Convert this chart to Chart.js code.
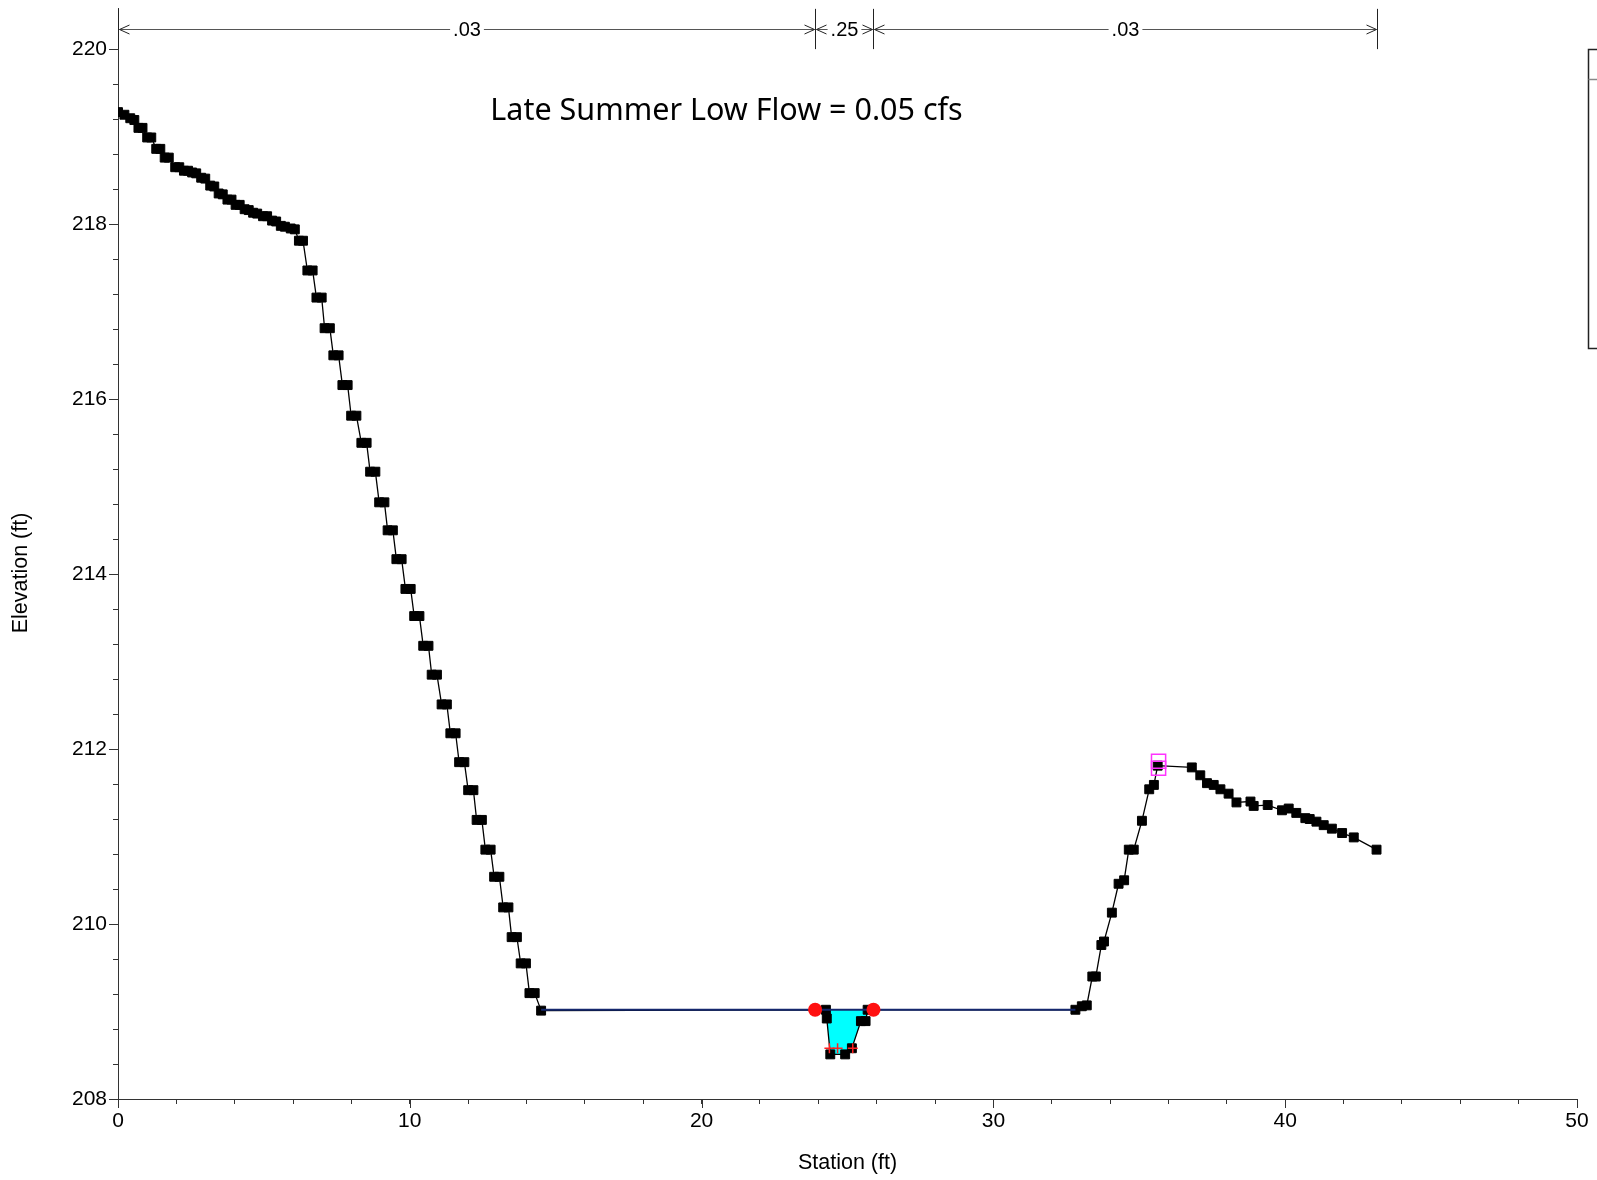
<!DOCTYPE html>
<html>
<head>
<meta charset="utf-8">
<script src="https://cdn.jsdelivr.net/npm/chart.js@4.4.1/dist/chart.umd.min.js"></script>
<style>
  html, body { margin: 0; padding: 0; background: #fff; }
  #wrap { width: 1597px; height: 1180px; }
</style>
</head>
<body>
<div id="wrap"><canvas id="xsChart" width="1597" height="1180"></canvas></div>
<script>
// ground survey points (station ft, elevation ft)
const groundStation = [
  0.00, 0.22, 0.42, 0.56, 0.70, 0.84, 1.00, 1.14, 1.31, 1.45, 1.60, 1.74, 1.96, 2.10, 2.26, 2.40,
  2.54, 2.68, 2.85, 2.99, 3.16, 3.30, 3.45, 3.59, 3.75, 3.89, 4.03, 4.17, 4.34, 4.48, 4.63, 4.77,
  4.97, 5.11, 5.28, 5.42, 5.58, 5.72, 5.92, 6.06, 6.20, 6.34,
  6.49, 6.67, 6.80, 6.98, 7.08, 7.26, 7.38, 7.56, 7.69, 7.87, 7.99, 8.17, 8.34, 8.52, 8.64, 8.82,
  8.95, 9.13, 9.24, 9.42, 9.54, 9.72, 9.85, 10.03, 10.15, 10.33, 10.46, 10.64, 10.75, 10.93,
  11.09, 11.27, 11.39, 11.57, 11.69, 11.87, 12.00, 12.18, 12.29, 12.47, 12.59, 12.77, 12.89, 13.07,
  13.20, 13.38, 13.49, 13.67, 13.80, 13.98, 14.10, 14.28, 14.50,
  24.26, 24.29, 24.41, 24.92, 25.15, 25.46, 25.62, 25.69,
  32.81, 33.03, 33.20, 33.39, 33.51, 33.70, 33.79, 34.06, 34.29, 34.48, 34.64, 34.81, 35.09,
  35.34, 35.50, 35.63, 36.80, 37.09, 37.32, 37.55, 37.78, 38.06, 38.33, 38.81, 38.92, 39.40,
  39.89, 40.12, 40.38, 40.69, 40.84, 41.07, 41.32, 41.60, 41.95, 42.35, 43.13
];
const groundElevation = [
  219.28, 219.25, 219.21, 219.19, 219.10, 219.10, 218.99, 218.99, 218.86, 218.86, 218.76, 218.76, 218.65, 218.65, 218.61, 218.61,
  218.59, 218.58, 218.53, 218.52, 218.44, 218.43, 218.35, 218.34, 218.28, 218.28, 218.22, 218.22, 218.17, 218.16, 218.13, 218.12,
  218.09, 218.09, 218.04, 218.03, 217.98, 217.97, 217.95, 217.94, 217.81, 217.81,
  217.47, 217.47, 217.16, 217.16, 216.81, 216.81, 216.50, 216.50, 216.16, 216.16, 215.81, 215.81, 215.50, 215.50, 215.17, 215.17,
  214.82, 214.82, 214.50, 214.50, 214.17, 214.17, 213.83, 213.83, 213.52, 213.52, 213.18, 213.18, 212.85, 212.85,
  212.51, 212.51, 212.18, 212.18, 211.85, 211.85, 211.53, 211.53, 211.19, 211.19, 210.85, 210.85, 210.54, 210.54,
  210.19, 210.19, 209.85, 209.85, 209.55, 209.55, 209.21, 209.21, 209.01,
  209.02, 208.92, 208.51, 208.51, 208.58, 208.89, 208.89, 209.02,
  209.02, 209.06, 209.07, 209.40, 209.40, 209.76, 209.80, 210.13, 210.46, 210.50, 210.85, 210.85, 211.18,
  211.54, 211.59, 211.81, 211.79, 211.70, 211.61, 211.59, 211.54, 211.49, 211.39, 211.40, 211.35, 211.36,
  211.30, 211.32, 211.27, 211.21, 211.20, 211.17, 211.13, 211.09, 211.04, 210.99, 210.85
];

// water surface
const wsElevation = 209.02;
const wsStation = [14.50, 32.81];
// wetted channel (filled up to the water surface)
const channelStation = [24.26, 24.29, 24.41, 24.92, 25.15, 25.46, 25.62, 25.69];
const channelElevation = [209.02, 208.92, 208.51, 208.51, 208.58, 208.89, 208.89, 209.02];

// bank stations
const bankStation = [23.89, 25.89];
const bankElevation = [209.02, 209.02];

// red crosses at channel bottom
const crossStation = [24.38, 24.66, 25.18];
const crossElevation = [208.58, 208.58, 208.58];

// levee / marker boxes
const leveeStation = [35.66, 35.66];
const leveeElevation = [211.86, 211.78];

// Manning's n break points
const nStations = [0, 23.89, 25.89, 43.13];
const nValues = ['.03', '.25', '.03'];
const nArrowElev = 220.23;
const nBarTop = 220.46;
const nBarBottom = 220.0;

const titleText = 'Late Summer Low Flow = 0.05 cfs';
const titleAt = { x: 12.76, y: 219.285 };

const pts = (xs, ys) => xs.map((x, i) => ({ x, y: Array.isArray(ys) ? ys[i] : ys }));

const sans = '"Liberation Sans", Arial, sans-serif';

const overlay = {
  id: 'overlay',
  afterDraw(chart) {
    const { ctx, scales: { x, y }, chartArea } = chart;
    ctx.save();

    // longer ticks on labelled values
    ctx.strokeStyle = '#333';
    ctx.lineWidth = 1;
    ctx.beginPath();
    x.ticks.forEach(t => {
      if (Math.abs(t.value % 10) > 1e-6) return;
      const px = Math.round(x.getPixelForValue(t.value)) + 0.5;
      ctx.moveTo(px, chartArea.bottom); ctx.lineTo(px, chartArea.bottom + 9);
    });
    y.ticks.forEach(t => {
      const r = Math.round(t.value);
      if (Math.abs(t.value - r) > 1e-6 || r % 2 !== 0) return;
      const py = Math.round(y.getPixelForValue(t.value)) + 0.5;
      ctx.moveTo(chartArea.left, py); ctx.lineTo(chartArea.left - 9, py);
    });
    ctx.stroke();

    // n-value arrows
    const yl = Math.round(y.getPixelForValue(nArrowElev)) + 0.5;
    const yt = y.getPixelForValue(nBarTop);
    const yb = y.getPixelForValue(nBarBottom);
    ctx.strokeStyle = '#222';
    nStations.forEach(s => {
      const px = Math.round(x.getPixelForValue(s)) + 0.5;
      ctx.beginPath(); ctx.moveTo(px, yt); ctx.lineTo(px, yb); ctx.stroke();
    });
    ctx.font = '20px ' + sans;
    ctx.textAlign = 'center';
    ctx.textBaseline = 'middle';
    for (let i = 0; i < nValues.length; i++) {
      const x0 = Math.round(x.getPixelForValue(nStations[i])) + 0.5;
      const x1 = Math.round(x.getPixelForValue(nStations[i + 1])) + 0.5;
      const mid = (x0 + x1) / 2;
      const tw = ctx.measureText(nValues[i]).width + 6;
      ctx.strokeStyle = '#555';
      ctx.beginPath();
      ctx.moveTo(x0 + 1, yl); ctx.lineTo(mid - tw / 2, yl);
      ctx.moveTo(mid + tw / 2, yl); ctx.lineTo(x1 - 1, yl);
      ctx.stroke();
      ctx.strokeStyle = '#222';
      ctx.beginPath();
      ctx.moveTo(x0 + 11, yl - 4.5); ctx.lineTo(x0 + 1, yl); ctx.lineTo(x0 + 11, yl + 4.5);
      ctx.moveTo(x1 - 11, yl - 4.5); ctx.lineTo(x1 - 1, yl); ctx.lineTo(x1 - 11, yl + 4.5);
      ctx.stroke();
      ctx.fillStyle = '#000';
      ctx.fillText(nValues[i], mid, yl + 1);
    }

    // plot title inside the chart area
    ctx.font = '30.5px "Noto Sans", "Open Sans", sans-serif';
    ctx.textAlign = 'left';
    ctx.textBaseline = 'middle';
    ctx.fillStyle = '#000';
    ctx.fillText(titleText, x.getPixelForValue(titleAt.x), y.getPixelForValue(titleAt.y));

    // y axis title
    ctx.save();
    ctx.translate(21, 573);
    ctx.rotate(-Math.PI / 2);
    ctx.font = '21.5px ' + sans;
    ctx.textAlign = 'center';
    ctx.fillText('Elevation (ft)', 0, 0);
    ctx.restore();

    // legend frame (cut off at the right edge)
    const lx = chartArea.right + 11.5;
    ctx.strokeStyle = '#222';
    ctx.lineWidth = 1.5;
    ctx.beginPath();
    ctx.moveTo(chart.width, 49.5); ctx.lineTo(lx, 49.5); ctx.lineTo(lx, 348.5); ctx.lineTo(chart.width, 348.5);
    ctx.stroke();
    ctx.strokeStyle = '#888';
    ctx.beginPath(); ctx.moveTo(lx, 79.5); ctx.lineTo(chart.width, 79.5); ctx.stroke();

    ctx.restore();
  }
};

new Chart(document.getElementById('xsChart'), {
  type: 'scatter',
  data: {
    datasets: [
      {
        label: 'Levee',
        data: pts(leveeStation, leveeElevation),
        pointStyle: 'rect',
        pointRadius: 10,
        backgroundColor: 'rgba(0,0,0,0)',
        borderColor: '#ff33ff',
        borderWidth: 1.5,
        order: 0
      },
      {
        label: 'Bank Sta',
        data: pts(bankStation, bankElevation),
        pointStyle: 'circle',
        pointRadius: 7,
        backgroundColor: '#ff1010',
        borderColor: '#ff1010',
        borderWidth: 0,
        order: 1
      },
      {
        label: 'Crosses',
        data: pts(crossStation, crossElevation),
        pointStyle: 'cross',
        pointRadius: 5,
        borderColor: '#ff2020',
        borderWidth: 1.5,
        order: 2
      },
      {
        label: 'WS',
        data: pts(wsStation, wsElevation),
        showLine: true,
        borderColor: '#15286e',
        borderWidth: 2,
        pointRadius: 0,
        order: 3
      },
      {
        label: 'Ground',
        data: pts(groundStation, groundElevation),
        showLine: true,
        borderColor: '#000',
        borderWidth: 1.3,
        pointStyle: 'rect',
        pointRadius: 6.3,
        pointBackgroundColor: '#000',
        pointBorderColor: '#000',
        pointBorderWidth: 1,
        order: 4
      },
      {
        label: 'Water',
        data: pts(channelStation, channelElevation),
        showLine: true,
        borderWidth: 0,
        pointRadius: 0,
        backgroundColor: '#00ffff',
        fill: { value: wsElevation },
        order: 5
      }
    ]
  },
  options: {
    responsive: false,
    animation: false,
    devicePixelRatio: 1,
    layout: { autoPadding: false, padding: { top: 8, right: 20, left: 0, bottom: 0 } },
    plugins: {
      legend: { display: false },
      tooltip: { enabled: false }
    },
    scales: {
      x: {
        type: 'linear',
        min: 0,
        max: 50,
        afterFit: s => { s.height = 81; s.paddingLeft = 0; s.paddingRight = 0; },
        ticks: {
          stepSize: 2,
          autoSkip: false,
          maxRotation: 0,
          padding: 5,
          color: '#000',
          font: { family: sans, size: 21 },
          callback: v => (Math.abs(v % 10) < 1e-6 ? String(v) : '')
        },
        grid: { drawOnChartArea: false, drawTicks: true, tickLength: 5, tickColor: '#333' },
        border: { display: true, color: '#333', width: 1 },
        title: {
          display: true,
          text: 'Station (ft)',
          color: '#000',
          font: { family: sans, size: 21.5 },
          padding: { top: 0, bottom: 4 }
        }
      },
      y: {
        type: 'linear',
        min: 208,
        max: 220.47,
        afterFit: s => { s.width = 118; s.paddingTop = 0; s.paddingBottom = 0; },
        afterBuildTicks: s => { s.ticks = s.ticks.filter(t => t.value <= 220.001); },
        ticks: {
          stepSize: 0.4,
          autoSkip: false,
          padding: 6,
          color: '#000',
          font: { family: sans, size: 21 },
          callback: v => {
            const r = Math.round(v);
            return (Math.abs(v - r) < 1e-6 && r % 2 === 0) ? String(r) : '';
          }
        },
        grid: { drawOnChartArea: false, drawTicks: true, tickLength: 5, tickColor: '#333' },
        border: { display: true, color: '#333', width: 1 },
        title: { display: false }
      }
    }
  },
  plugins: [overlay]
});
</script>
</body>
</html>
